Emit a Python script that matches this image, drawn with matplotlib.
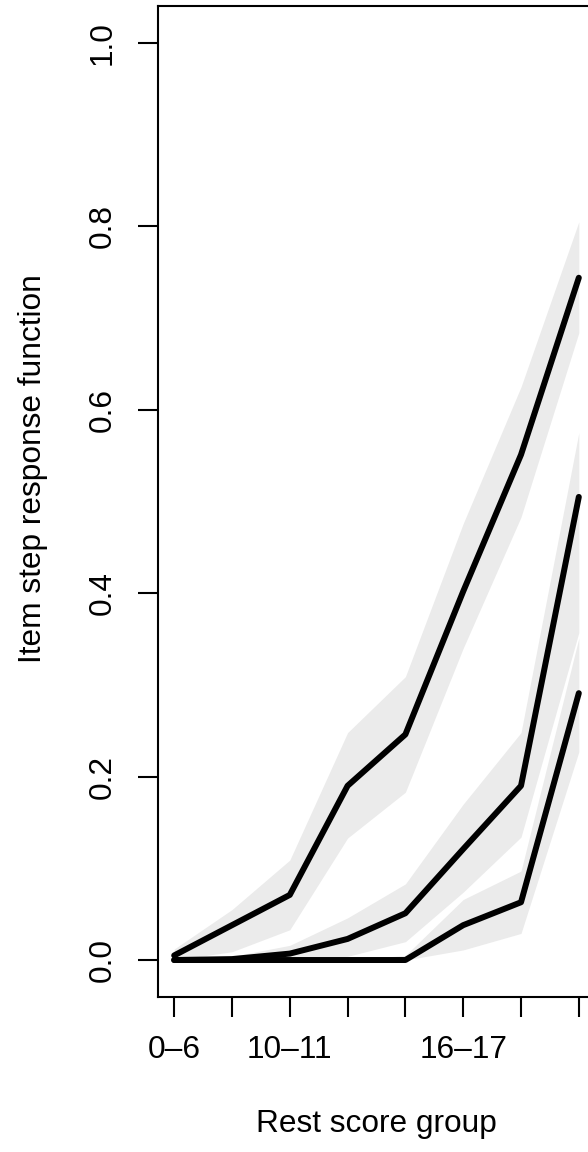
#!/usr/bin/env python3
import matplotlib
matplotlib.use("Agg")
import matplotlib.pyplot as plt

# rest score groups (R only printed some labels, the rest were dropped for overlap)
groups = [1, 2, 3, 4, 5, 6, 7, 8]
group_labels = ["0–6", "", "10–11", "", "", "16–17", "", ""]

# item step response functions, one per step
step1 = [0.005, 0.038, 0.071, 0.190, 0.246, 0.402, 0.551, 0.744]
step1_lo = [0.000, 0.009, 0.033, 0.133, 0.183, 0.340, 0.483, 0.684]
step1_hi = [0.012, 0.055, 0.109, 0.248, 0.309, 0.476, 0.625, 0.805]

step2 = [0.000, 0.001, 0.007, 0.023, 0.051, 0.121, 0.190, 0.505]
step2_lo = [0.000, 0.000, 0.000, 0.004, 0.020, 0.074, 0.134, 0.357]
step2_hi = [0.002, 0.004, 0.016, 0.046, 0.083, 0.170, 0.248, 0.575]

step3 = [0.000, 0.000, 0.000, 0.000, 0.000, 0.038, 0.063, 0.291]
step3_lo = [0.000, 0.000, 0.000, 0.000, 0.000, 0.011, 0.029, 0.227]
step3_hi = [0.000, 0.000, 0.000, 0.000, 0.005, 0.066, 0.097, 0.351]

band_color = "#EBEBEB"
fs = 22.8

plt.rcParams["font.family"] = ["Liberation Sans", "DejaVu Sans"]

fig = plt.figure(figsize=(5.88, 11.52), dpi=100)
# the plot region runs past the right edge of the picture, like the reference
ax = fig.add_axes([158 / 588, 155.3 / 1152, 437 / 588, 990.4 / 1152])

for lo, hi in [(step1_lo, step1_hi), (step2_lo, step2_hi), (step3_lo, step3_hi)]:
    ax.fill_between(groups, lo, hi, color=band_color, linewidth=0)
for ys in [step1, step2, step3]:
    ax.plot(groups, ys, color="black", lw=4.3, solid_capstyle="round",
            solid_joinstyle="round")

ax.set_xlim(0.72, 8.28)
ax.set_ylim(-0.04, 1.04)
ax.set_xticks(groups)
ax.set_xticklabels(group_labels)
ax.set_yticks([0.0, 0.2, 0.4, 0.6, 0.8, 1.0])
ax.set_yticklabels(["0.0", "0.2", "0.4", "0.6", "0.8", "1.0"], rotation=90, va="center")
for s in ax.spines.values():
    s.set_linewidth(1.5)
ax.tick_params(axis="both", length=14.4, width=1.5, labelsize=fs)
ax.tick_params(axis="x", pad=13.5)
ax.tick_params(axis="y", pad=14.5)

ax.set_xlabel("Rest score group", fontsize=fs, labelpad=31)
ax.set_ylabel("Item step response function", fontsize=fs, labelpad=29)
ax.yaxis.label.set_y(0.533)

fig.savefig("out.png", dpi=100)
